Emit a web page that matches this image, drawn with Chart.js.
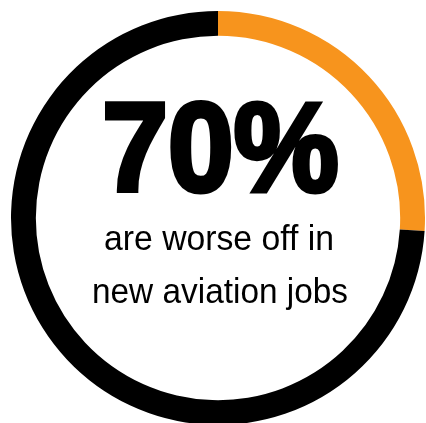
<!DOCTYPE html>
<html>
<head>
<meta charset="utf-8">
<script src="https://cdn.jsdelivr.net/npm/chart.js@4.4.1/dist/chart.umd.min.js"></script>
<style>
  html, body { margin: 0; padding: 0; background: #fff; overflow: hidden; }
  #wrap { position: relative; width: 426px; height: 425px; }
</style>
</head>
<body>
<div id="wrap"><canvas id="ringChart"></canvas></div>
<script>
const labels = ['Worse off', 'Other'];
const shares = [26, 74];
const colours = ['#f7941d', '#000000'];

const bigText = '70%';
const subLines = ['are worse off in', 'new aviation jobs'];

// draws the headline text in the middle of the ring
const centreText = {
  id: 'centreText',
  afterDraw(chart) {
    const c = chart.ctx;
    c.save();
    c.fillStyle = '#000';
    c.strokeStyle = '#000';
    c.lineJoin = 'miter';
    c.textAlign = 'left';
    c.textBaseline = 'alphabetic';

    function fitText(txt, font, left, right, baseline, heavy) {
      c.font = font;
      const w = c.measureText(txt).width + heavy;
      const sx = (right - left) / w;
      c.save();
      c.translate(left, baseline);
      c.scale(sx, 1);
      c.fillText(txt, heavy / 2, 0);
      if (heavy) {
        c.lineWidth = heavy;
        c.strokeText(txt, heavy / 2, 0);
      }
      c.restore();
    }

    fitText(bigText, 'bold 127px "Liberation Sans", Arial, sans-serif', 100, 341, 191, 5);
    fitText(subLines[0], '35px "Liberation Sans", Arial, sans-serif', 104, 334, 250, 0);
    fitText(subLines[1], '35px "Liberation Sans", Arial, sans-serif', 92, 348, 303, 0);
    c.restore();
  }
};

const ctx = document.getElementById('ringChart').getContext('2d');
new Chart(ctx, {
  type: 'doughnut',
  data: {
    labels: labels,
    datasets: [{
      data: shares,
      backgroundColor: colours,
      borderWidth: 0,
    }]
  },
  options: {
    responsive: true,
    maintainAspectRatio: false,
    animation: false,
    cutout: '88%',
    layout: { padding: { left: 11, right: 1, top: 11, bottom: 0 } },
    plugins: {
      legend: { display: false },
      tooltip: { enabled: false }
    }
  },
  plugins: [centreText]
});
</script>
</body>
</html>
